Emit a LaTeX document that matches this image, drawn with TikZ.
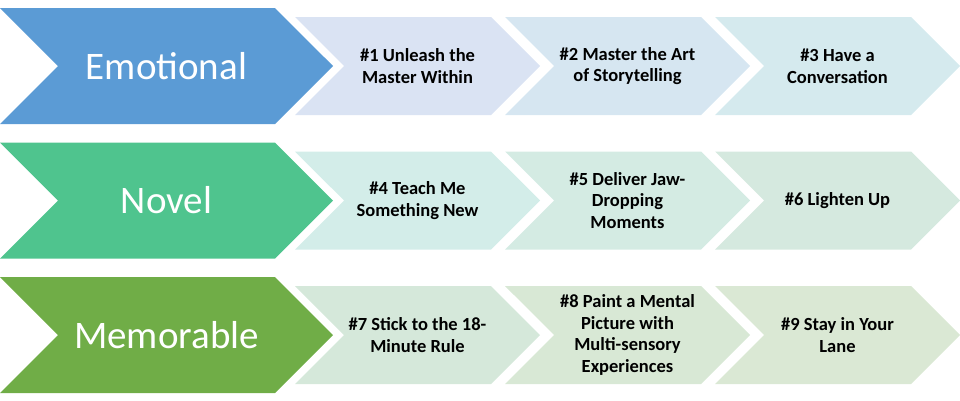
\documentclass[tikz,border=0pt]{standalone}
\usepackage{fontspec}
\setmainfont{Carlito}
\usetikzlibrary{shapes.symbols}
\definecolor{emoblue}{HTML}{5B9BD5}
\definecolor{novgreen}{HTML}{4FC48E}
\definecolor{memgreen}{HTML}{70AD47}
\definecolor{c1}{HTML}{DAE3F3}\definecolor{c2}{HTML}{D6E6F1}\definecolor{c3}{HTML}{D5EAEE}
\definecolor{c4}{HTML}{D3EDE9}\definecolor{c5}{HTML}{D4EBE3}\definecolor{c6}{HTML}{D5E9DF}
\definecolor{c7}{HTML}{D5E8DA}\definecolor{c8}{HTML}{D8E8D5}\definecolor{c9}{HTML}{DAE8D4}
\begin{document}
\begin{tikzpicture}[x=1pt, y=-1pt,
  big/.style={signal, signal to=east, signal from=west, minimum width=333pt, minimum height=116pt, inner sep=0pt, fill=#1, text=white, font=\fontsize{39}{47}\selectfont},
  chev/.style={signal, signal to=east, signal from=west, minimum width=245pt, minimum height=98pt, inner sep=0pt, fill=#1, align=center, font=\bfseries\fontsize{18.5}{21.5}\selectfont}]
\useasboundingbox (0,0) rectangle (960,400);
% left column
\node[big=emoblue] (emo) at (166.5,66) {Emotional};
\node[big=novgreen] (nov) at (166.5,200.5) {Novel};
\node[big=memgreen] (mem) at (166.5,335) {Memorable};
% steps
\node[chev=c1] (s1) at (417.5,66) {\#1 Unleash the\\Master Within};
\node[chev=c2] (s2) at (627.5,66) {\#2 Master the Art\\of Storytelling};
\node[chev=c3] (s3) at (837.5,66) {\#3 Have a\\Conversation};
\node[chev=c4] (s4) at (417.5,200.5) {\#4 Teach Me\\Something New};
\node[chev=c5] (s5) at (627.5,200.5) {\#5 Deliver Jaw-\\Dropping\\Moments};
\node[chev=c6] (s6) at (837.5,200.5) {\#6 Lighten Up};
\node[chev=c7] (s7) at (417.5,335) {\#7 Stick to the 18-\\Minute Rule};
\node[chev=c8] (s8) at (627.5,335) {\#8 Paint a Mental\\Picture with\\Multi-sensory\\Experiences};
\node[chev=c9] (s9) at (837.5,335) {\#9 Stay in Your\\Lane};
\end{tikzpicture}
\end{document}
